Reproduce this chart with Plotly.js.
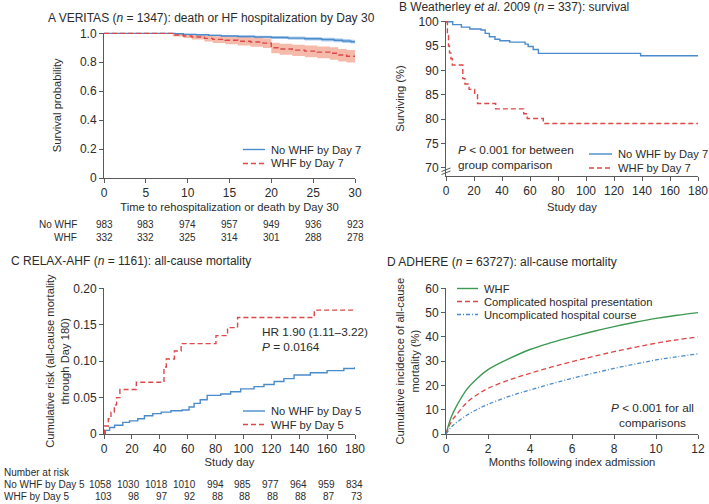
<!DOCTYPE html>
<html><head><meta charset="utf-8">
<script src="https://cdn.plot.ly/plotly-3.0.1.min.js"></script>
<style>html,body{margin:0;padding:0;background:#fff;}#chart{width:709px;height:504px;}</style>
</head><body><div id="chart"></div>
<script>
// ---------- Panel A: VERITAS ----------
const aTicks = [0, 5, 10, 15, 20, 25, 30];
const aNoRisk = [983, 983, 974, 957, 949, 936, 923];
const aWhfRisk = [332, 332, 325, 314, 301, 288, 278];
const aNoDays = [0, 8.5, 9.5, 11, 12.5, 14, 16, 18, 20, 22, 24, 26, 27.5, 28.5, 29.5, 30];
const aNoSurv = [1.0, 0.997, 0.993, 0.99, 0.986, 0.982, 0.978, 0.975, 0.971, 0.967, 0.962, 0.957, 0.952, 0.947, 0.942, 0.942];
const aNoLo   = [1.0, 0.994, 0.989, 0.985, 0.98, 0.975, 0.97, 0.966, 0.961, 0.956, 0.95, 0.944, 0.938, 0.933, 0.929, 0.929];
const aNoHi   = [1.0, 1.0, 0.997, 0.995, 0.992, 0.989, 0.986, 0.984, 0.981, 0.978, 0.974, 0.97, 0.966, 0.961, 0.955, 0.955];
const aWhfDays = [0, 8.2, 9.5, 10.5, 12, 13, 14.5, 16, 17.5, 19, 20, 21, 22.5, 24, 25.5, 27, 28, 29, 30];
const aWhfSurv = [1.0, 0.988, 0.982, 0.975, 0.965, 0.958, 0.952, 0.945, 0.94, 0.932, 0.9, 0.892, 0.884, 0.877, 0.87, 0.862, 0.85, 0.842, 0.842];
const aWhfLo   = [1.0, 0.978, 0.968, 0.957, 0.943, 0.933, 0.925, 0.915, 0.908, 0.898, 0.862, 0.852, 0.843, 0.835, 0.827, 0.818, 0.806, 0.798, 0.798];
const aWhfHi   = [1.0, 0.996, 0.994, 0.99, 0.984, 0.98, 0.977, 0.973, 0.97, 0.964, 0.934, 0.928, 0.921, 0.915, 0.909, 0.903, 0.892, 0.884, 0.884];
const aYTicks = [0, 0.2, 0.4, 0.6, 0.8, 1.0];
const aYText = ['0', '0.2', '0.4', '0.6', '0.8', '1.0'];
const aNames = ['No WHF by Day 7', 'WHF by Day 7'];

// ---------- Panel B: Weatherley ----------
const bTicks = [0, 20, 40, 60, 80, 100, 120, 140, 160, 180];
const bYTicks = [70, 75, 80, 85, 90, 95, 100];
const bNoDays = [0, 4.8, 11, 17, 25, 28, 31, 35, 38.5, 45.5, 56.5, 58.7, 62.3, 66, 139, 180];
const bNoSurv = [100, 99.4, 98.9, 98.5, 98.3, 97.6, 96.9, 96.4, 96.1, 95.8, 95.4, 94.9, 94.3, 93.5, 93.0, 93.0];
const bWhfDays = [0, 1, 1.8, 2.5, 3.5, 4.5, 12, 13.5, 16.5, 20.5, 22.5, 35.5, 55.5, 58, 69.5, 180];
const bWhfSurv = [100, 97.2, 95.0, 93.6, 92.4, 91.1, 88.3, 87.2, 86.1, 85.0, 83.2, 82.1, 81.1, 80.1, 79.1, 79.1];
const bNames = ['No WHF by Day 7', 'WHF by Day 7'];

// ---------- Panel C: RELAX-AHF ----------
const cTicks = [0, 20, 40, 60, 80, 100, 120, 140, 160, 180];
const cNoRiskN = [1058, 1030, 1018, 1010, 994, 985, 977, 964, 959, 834];
const cWhfRiskN = [103, 98, 97, 92, 88, 88, 88, 88, 87, 73];
const cYTicks = [0, 0.05, 0.10, 0.15, 0.20];
const cYText = ['0', '0.05', '0.10', '0.15', '0.20'];
const cWhfDays = [0, 0.4, 3.1, 5, 7.4, 9, 11.4, 23.2, 43, 44.7, 50.5, 55.3, 80.3, 88.6, 95.8, 150.8, 180];
const cWhfRisk = [0, 0.011, 0.021, 0.03, 0.04, 0.05, 0.061, 0.071, 0.092, 0.103, 0.114, 0.124, 0.135, 0.146, 0.16, 0.17, 0.17];
const cNoDays = [0, 1, 4, 7.6, 13.5, 18.3, 24.2, 29, 35, 41, 48, 56, 61, 64.6, 69, 74, 83.7, 90.8, 98, 107.6, 114.7, 122, 129, 136.3, 148, 160, 172, 180];
const cNoRisk = [0, 0.005, 0.009, 0.012, 0.016, 0.018, 0.021, 0.025, 0.028, 0.030, 0.032, 0.033, 0.037, 0.042, 0.047, 0.053, 0.055, 0.058, 0.062, 0.065, 0.068, 0.072, 0.076, 0.081, 0.084, 0.087, 0.09, 0.092];
const cNames = ['No WHF by Day 5', 'WHF by Day 5'];

// ---------- Panel D: ADHERE ----------
const dTicks = [0, 2, 4, 6, 8, 10, 12];
const dYTicks = [0, 10, 20, 30, 40, 50, 60];
const dMonths = [0, 0.25, 0.5, 1, 1.5, 2, 3, 4, 5, 6, 7, 8, 9, 10, 11, 12];
const dWhf = [0, 7, 11.5, 18.5, 23, 26.5, 31, 34.8, 37.6, 40, 42.2, 44.2, 46, 47.6, 48.9, 50];
const dComplicated = [0, 5, 8, 13, 16.3, 18.8, 22.2, 25, 27.5, 29.8, 31.9, 33.9, 35.7, 37.4, 38.8, 40];
const dUncomplicated = [0, 2.8, 4.7, 7.8, 10.2, 12.2, 15.5, 18.1, 20.6, 22.9, 25, 27, 28.8, 30.5, 31.8, 33];
const dNames = ['WHF', 'Complicated hospital presentation', 'Uncomplicated hospital course'];

// ---------- styling helpers ----------
const W = 709, H = 504;
const PX = v => v / W, PY = v => 1 - v / H;
const FONT = 'Liberation Sans, Arial, Helvetica, sans-serif';
const TXT = '#2b2b2b';
const AX = '#5a5a5a';
const BLUE = '#4a8bcb', RED = '#dc4848', GREEN = '#3d9a52';
const BAND_BLUE = 'rgba(125,170,225,0.55)', BAND_RED = 'rgba(236,130,100,0.55)';
const DASH = '5px,3px', DASHDOT = '4px,2px,1px,2px';
const SOLID_BLUE = {color: BLUE, width: 1.4};
const DASH_RED = {color: RED, width: 1.4, dash: DASH};

function line(style, shape) { return Object.assign({shape: shape}, style); }

const traces = [
  // Panel A confidence bands
  {x: aNoDays, y: aNoHi, xaxis: 'x', yaxis: 'y', mode: 'lines', line: {width: 0, shape: 'hv'}, hoverinfo: 'skip'},
  {x: aNoDays, y: aNoLo, xaxis: 'x', yaxis: 'y', mode: 'lines', line: {width: 0, shape: 'hv'}, fill: 'tonexty', fillcolor: BAND_BLUE, hoverinfo: 'skip'},
  {x: aWhfDays, y: aWhfHi, xaxis: 'x', yaxis: 'y', mode: 'lines', line: {width: 0, shape: 'hv'}, hoverinfo: 'skip'},
  {x: aWhfDays, y: aWhfLo, xaxis: 'x', yaxis: 'y', mode: 'lines', line: {width: 0, shape: 'hv'}, fill: 'tonexty', fillcolor: BAND_RED, hoverinfo: 'skip'},
  {x: aNoDays, y: aNoSurv, xaxis: 'x', yaxis: 'y', mode: 'lines', name: aNames[0], line: line(SOLID_BLUE, 'hv')},
  {x: aWhfDays, y: aWhfSurv, xaxis: 'x', yaxis: 'y', mode: 'lines', name: aNames[1], line: line(DASH_RED, 'hv')},
  // Panel B
  {x: bNoDays, y: bNoSurv, xaxis: 'x2', yaxis: 'y2', mode: 'lines', name: bNames[0], line: line(SOLID_BLUE, 'hv')},
  {x: bWhfDays, y: bWhfSurv, xaxis: 'x2', yaxis: 'y2', mode: 'lines', name: bNames[1], line: line(DASH_RED, 'hv')},
  // Panel C
  {x: cNoDays, y: cNoRisk, xaxis: 'x3', yaxis: 'y3', mode: 'lines', name: cNames[0], line: line(SOLID_BLUE, 'hv')},
  {x: cWhfDays, y: cWhfRisk, xaxis: 'x3', yaxis: 'y3', mode: 'lines', name: cNames[1], line: line(DASH_RED, 'hv')},
  // Panel D
  {x: dMonths, y: dWhf, xaxis: 'x4', yaxis: 'y4', mode: 'lines', name: dNames[0], line: {color: GREEN, width: 1.4, shape: 'spline'}},
  {x: dMonths, y: dComplicated, xaxis: 'x4', yaxis: 'y4', mode: 'lines', name: dNames[1], line: {color: RED, width: 1.3, shape: 'spline', dash: DASH}},
  {x: dMonths, y: dUncomplicated, xaxis: 'x4', yaxis: 'y4', mode: 'lines', name: dNames[2], line: {color: BLUE, width: 1.3, shape: 'spline', dash: DASHDOT}}
];

function axis(extra) {
  return Object.assign({
    showline: true, linecolor: AX, linewidth: 1, ticks: 'outside', ticklen: 4, tickcolor: AX,
    showgrid: false, zeroline: false, fixedrange: true,
    tickfont: {family: FONT, size: 12, color: TXT}
  }, extra);
}
function ttl(text, standoff) {
  return {text: text, standoff: standoff, font: {family: FONT, size: 11.2, color: TXT}};
}

const domA_x = [PX(104), PX(355)], domB_x = [PX(446), PX(698)];
const layout = {
  width: W, height: H, margin: {l: 0, r: 0, t: 0, b: 0},
  paper_bgcolor: '#fff', plot_bgcolor: 'rgba(0,0,0,0)',
  font: {family: FONT, size: 11, color: TXT},
  showlegend: false,
  xaxis: axis({domain: domA_x, range: [0, 30], tickvals: aTicks, anchor: 'y', title: ttl('Time to rehospitalization or death by Day 30', 3)}),
  yaxis: axis({domain: [PY(178), PY(32.6)], range: [0, 1.005], tickvals: aYTicks, ticktext: aYText, anchor: 'x', title: ttl('Survival probability', 15)}),
  xaxis2: axis({domain: domB_x, range: [0, 180], tickvals: bTicks, anchor: 'y2', title: ttl('Study day', 5)}),
  yaxis2: axis({domain: [PY(176), PY(21)], range: [68.3, 100.15], tickvals: bYTicks, anchor: 'x2', title: ttl('Surviving (%)', 11)}),
  xaxis3: axis({domain: domA_x, range: [0, 180], tickvals: cTicks, anchor: 'y3', title: ttl('Study day', 0)}),
  yaxis3: axis({domain: [PY(434), PY(288.3)], range: [0, 0.2], tickvals: cYTicks, ticktext: cYText, anchor: 'x3', title: ttl('Cumulative risk (all-cause mortality<br>through Day 180)', 1)}),
  xaxis4: axis({domain: domB_x, range: [0, 12], tickvals: dTicks, anchor: 'y4', title: ttl('Months following index admission', 0)}),
  yaxis4: axis({domain: [PY(434), PY(288.3)], range: [0, 60], tickvals: dYTicks, anchor: 'x4', title: ttl('Cumulative incidence of all-cause<br>mortality (%)', 3)}),
  annotations: [],
  shapes: [
    // axis-break marks on panel B y axis
    {type: 'line', xref: 'paper', yref: 'paper', x0: PX(441.5), y0: PY(171.5), x1: PX(450.5), y1: PY(168), line: {color: AX, width: 1}},
    {type: 'line', xref: 'paper', yref: 'paper', x0: PX(441.5), y0: PY(174.5), x1: PX(450.5), y1: PY(171), line: {color: AX, width: 1}}
  ]
};

const ann = layout.annotations;
function txt(text, x, y, xanchor, extra, size) {
  ann.push(Object.assign({text: text, xref: 'paper', yref: 'paper', x: PX(x), y: PY(y), xanchor: xanchor || 'left', yanchor: 'middle', showarrow: false, font: {family: FONT, size: size || 11.2, color: TXT}}, extra || {}));
}
// Legend entries drawn as sample line + label
function legendItem(name, style, x0, x1, y) {
  layout.shapes.push({type: 'line', xref: 'paper', yref: 'paper', x0: PX(x0), x1: PX(x1), y0: PY(y), y1: PY(y), line: Object.assign({}, style)});
  txt(name, x1 + 4, y, 'left', {}, 11.2);
}
const dGreen = {color: GREEN, width: 1.4};
const dRed = {color: RED, width: 1.3, dash: DASH};
const dBlue = {color: BLUE, width: 1.3, dash: DASHDOT};
legendItem(aNames[0], SOLID_BLUE, 243, 265, 149.5);
legendItem(aNames[1], DASH_RED, 243, 265, 163.5);
legendItem(bNames[0], SOLID_BLUE, 589, 612, 154);
legendItem(bNames[1], DASH_RED, 589, 612, 168);
legendItem(cNames[0], SOLID_BLUE, 243, 265, 411);
legendItem(cNames[1], DASH_RED, 243, 265, 424.5);
legendItem(dNames[0], dGreen, 457, 478, 288.5);
legendItem(dNames[1], dRed, 457, 478, 301.5);
legendItem(dNames[2], dBlue, 457, 478, 314.5);

// Panel titles
txt('A VERITAS (<i>n</i> = 1347): death or HF hospitalization by Day 30', 46, 18, 'left', {}, 12);
txt('B Weatherley <i>et al</i>. 2009 (<i>n</i> = 337): survival', 397, 7, 'left', {}, 12);
txt('C RELAX-AHF (<i>n</i> = 1161): all-cause mortality', 9, 261, 'left', {}, 12);
txt('D ADHERE (<i>n</i> = 63727): all-cause mortality', 385, 262, 'left', {}, 12);
// In-plot notes
txt('<i>P</i> < 0.001 for between<br>group comparison', 456, 157.5, 'left', {align: 'left'}, 11.8);
txt('HR 1.90 (1.11–3.22)<br><i>P</i> = 0.0164', 260, 339.5, 'left', {align: 'left'}, 11.8);
txt('<i>P</i> < 0.001 for all<br>comparisons', 652, 415, 'center', {align: 'center'}, 11.8);
// Risk table A
const TB = 10;
txt('No WHF', 79, 225, 'right', {}, TB);
txt('WHF', 79, 237, 'right', {}, TB);
aTicks.forEach((t, i) => {
  ann.push({text: String(aNoRisk[i]), xref: 'x', yref: 'paper', x: t, y: PY(225), xanchor: 'center', yanchor: 'middle', showarrow: false, font: {family: FONT, size: TB, color: TXT}});
  ann.push({text: String(aWhfRisk[i]), xref: 'x', yref: 'paper', x: t, y: PY(237), xanchor: 'center', yanchor: 'middle', showarrow: false, font: {family: FONT, size: TB, color: TXT}});
});
// Risk table C
txt('Number at risk', 2, 472, 'left', {}, TB);
txt('No WHF by Day 5', 2, 484.5, 'left', {}, TB);
txt('WHF by Day 5', 2, 496, 'left', {}, TB);
cTicks.forEach((t, i) => {
  ann.push({text: String(cNoRiskN[i]), xref: 'x3', yref: 'paper', x: t, y: PY(484.5), xanchor: 'right', xshift: 10, yanchor: 'middle', showarrow: false, font: {family: FONT, size: TB, color: TXT}});
  ann.push({text: String(cWhfRiskN[i]), xref: 'x3', yref: 'paper', x: t, y: PY(496), xanchor: 'right', xshift: 10, yanchor: 'middle', showarrow: false, font: {family: FONT, size: TB, color: TXT}});
});

Plotly.newPlot('chart', traces, layout, {staticPlot: true, displayModeBar: false});
</script></body></html>
